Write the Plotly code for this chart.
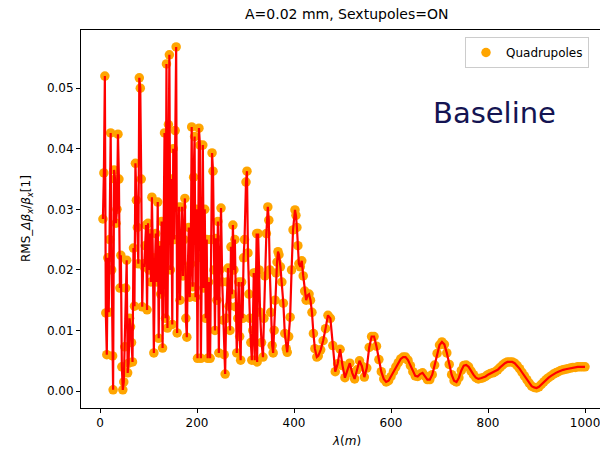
import plotly.graph_objects as go

# wavelength lambda (m) and RMS beta-beat values
lam = [6, 8, 10, 12, 14, 16, 18, 20, 22, 24, 26, 27, 29, 31, 33, 35, 37, 39, 41, 43,
       45, 47, 49, 51, 53, 55, 57, 59, 61, 63, 65, 67, 69, 71, 73, 75, 77, 79, 81, 83,
       85, 87, 89, 91, 93, 95, 97, 99, 101, 103, 105, 107, 109, 111, 113, 115, 117, 119, 121, 123,
       125, 127, 129, 131, 133, 135, 137, 139, 141, 143, 145, 147, 149, 151, 153, 155, 157, 159, 161, 163,
       165, 167, 169, 171, 173, 175, 177, 179, 181, 183, 185, 187, 189, 191, 193, 195, 197, 199, 201, 204,
       206, 208, 210, 212, 214, 216, 218, 220, 222, 224, 227, 229, 231, 233, 235, 237, 239, 241, 243, 245,
       247, 249.5, 252, 254, 256, 258, 260, 262, 264, 266, 268, 270, 272, 274, 276, 278, 280, 282, 284, 286,
       288, 290, 292, 294, 296, 298, 301, 303, 305, 307, 309, 311, 313, 315, 317, 319, 321, 323, 324, 326,
       328, 330, 333, 336, 338, 340, 343, 346, 348, 350, 352, 355, 357, 359, 361, 363, 365, 367, 369, 372,
       375, 378, 381, 384, 386, 389, 392, 395, 398, 402, 404, 406, 408, 410, 413, 416, 419, 422, 425, 428,
       431, 434, 437, 440, 443, 447,
       450, 455, 460, 465, 470, 475, 480, 485, 490, 495, 500, 505, 510, 515, 520, 525, 530, 535, 540, 545,
       550, 555, 560, 565, 570, 575, 580, 585, 590, 595, 600, 605, 610, 615, 620, 625, 630, 635, 640, 645,
       650, 655, 660, 665, 670, 675, 680, 685, 690, 695, 700, 705, 710, 715, 720, 725, 730, 735, 740, 745,
       750, 755, 760, 765, 770, 775, 780, 785, 790, 795, 800, 805, 810, 815, 820, 825, 830, 835, 840, 845,
       850, 855, 860, 865, 870, 875, 880, 885, 890, 895, 900, 905, 910, 915, 920, 925, 930, 935, 940, 945,
       950, 955, 960, 965, 970, 975, 980, 985, 990, 995, 1000]

rms = [0.0284, 0.0360, 0.0520, 0.0129, 0.0060, 0.0220, 0.0130, 0.0250, 0.0426, 0.0200,
       0.0058, 0.0002, 0.0365, 0.0350, 0.0277, 0.0300, 0.0424, 0.0350, 0.0170, 0.0224,
       0.0040, 0.0002, 0.0015, 0.0073, 0.0170, 0.0216, 0.0030, 0.0046, 0.0120, 0.0106,
       0.0080, 0.0048, 0.0236, 0.0140, 0.0376, 0.0315, 0.0270, 0.0210, 0.0517, 0.0500,
       0.0350, 0.0139, 0.0210, 0.0205, 0.0240, 0.0274, 0.0134, 0.0277, 0.0200, 0.0260,
       0.0180, 0.0320, 0.0220, 0.0063, 0.0200, 0.0260, 0.0180, 0.0312, 0.0087, 0.0240,
       0.0160, 0.0280, 0.0071, 0.0220, 0.0426, 0.0120, 0.0540, 0.0104, 0.0440, 0.0555,
       0.0200, 0.0350, 0.0110, 0.0400, 0.0250, 0.0430, 0.0568, 0.0096, 0.0250, 0.0304,
       0.0150, 0.0220, 0.0304, 0.0190, 0.0250, 0.0318, 0.0120, 0.0089, 0.0200, 0.0270,
       0.0155, 0.0210, 0.0436, 0.0172, 0.0353, 0.0420, 0.0155, 0.0300, 0.0054, 0.0434,
       0.0406, 0.0054, 0.0220, 0.0406, 0.0170, 0.0300, 0.0120, 0.0250, 0.0054, 0.0180,
       0.0054, 0.0250, 0.0393, 0.0363, 0.0200, 0.0100, 0.0252, 0.0150, 0.0280, 0.0063,
       0.0200, 0.0302, 0.0180, 0.0117, 0.0060, 0.0028, 0.0120, 0.0180, 0.0203, 0.0140,
       0.0100, 0.0238, 0.0160, 0.0274, 0.0200, 0.0250, 0.0139, 0.0063, 0.0120, 0.0180,
       0.0090, 0.0051, 0.0180, 0.0120, 0.0220, 0.0250, 0.0345, 0.0363, 0.0228, 0.0160,
       0.0120, 0.0080, 0.0051, 0.0100, 0.0195, 0.0051, 0.0195, 0.0260, 0.0048, 0.0260,
       0.0200, 0.0130, 0.0080, 0.0056, 0.0120, 0.0190, 0.0260, 0.0304, 0.0282, 0.0200,
       0.0130, 0.0075, 0.0063, 0.0100, 0.0150, 0.0195, 0.0213, 0.0230, 0.0225, 0.0205,
       0.0180, 0.0145, 0.0095, 0.0070, 0.0064, 0.0090, 0.0122, 0.0200, 0.0266, 0.0299,
       0.0290, 0.0270, 0.0240, 0.0210, 0.0205, 0.0215, 0.0190, 0.0165, 0.0150, 0.0158,
       0.0160, 0.0150, 0.0130, 0.0095, 0.0070, 0.0056,
       0.0058, 0.0068, 0.0083, 0.0103, 0.0125, 0.0120, 0.0075, 0.0032, 0.0045, 0.0069,
       0.0042, 0.0022, 0.0034, 0.0046, 0.0030, 0.0020, 0.0035, 0.0050, 0.0041, 0.0023,
       0.0038, 0.0072, 0.0090, 0.0090, 0.0074, 0.0052, 0.0032, 0.0020, 0.0015, 0.0017,
       0.0024, 0.0032, 0.0040, 0.0047, 0.0053, 0.0056, 0.0056, 0.0051, 0.0042, 0.0032,
       0.0025, 0.0024, 0.0028, 0.0030, 0.0025, 0.0019, 0.0019, 0.0027, 0.0043, 0.0062,
       0.0076, 0.0081, 0.0077, 0.0063, 0.0044, 0.0027, 0.0017, 0.0015, 0.0022, 0.0034,
       0.0042, 0.0043, 0.0040, 0.0033, 0.0027, 0.0022, 0.0020, 0.0021, 0.0022, 0.0024,
       0.0027, 0.0029, 0.0030, 0.0032, 0.0035, 0.0039, 0.0043, 0.0046, 0.0048, 0.0048,
       0.0048, 0.0046, 0.0042, 0.0037, 0.0031, 0.0025, 0.0019, 0.0013, 0.0008, 0.0006,
       0.0005, 0.0007, 0.0011, 0.0015, 0.0019, 0.0022, 0.0025, 0.0028, 0.0030, 0.0032,
       0.0034, 0.0035, 0.0036, 0.0037, 0.0038, 0.0039, 0.0039, 0.0040, 0.0040, 0.0040,
       0.0040]

x_ticks = [0, 200, 400, 600, 800, 1000]
y_ticks = [0.00, 0.01, 0.02, 0.03, 0.04, 0.05]
y_tick_labels = ["0.00", "0.01", "0.02", "0.03", "0.04", "0.05"]

FONT = "DejaVu Sans"
ML, MR, MT, MB = 81, 0, 30, 43
W, H = 600, 451
PW, PH = W - ML - MR, H - MT - MB

fig = go.Figure()
fig.add_trace(go.Scatter(
    x=lam, y=rms, mode="markers", name="Quadrupoles",
    marker=dict(color="#FFA500", size=9.5, line=dict(width=0)),
))
fig.add_trace(go.Scatter(
    x=lam, y=rms, mode="lines", showlegend=False,
    line=dict(color="#FF0000", width=2.2),
))

# "Baseline" label
fig.add_annotation(
    x=(494 - ML) / PW, y=1 - (113 - MT) / PH, xref="paper", yref="paper",
    text="Baseline", showarrow=False,
    font=dict(family=FONT, size=29, color="#141452"), xanchor="center", yanchor="middle",
)
# title
fig.add_annotation(
    x=(346 - ML) / PW, y=1 + (MT - 14) / PH, xref="paper", yref="paper",
    text="A=0.02 mm, Sextupoles=ON", showarrow=False,
    font=dict(family=FONT, size=14, color="#000000"), xanchor="center", yanchor="middle",
)
# axis titles
fig.add_annotation(
    x=(346 - ML) / PW, y=-(441 - (H - MB)) / PH, xref="paper", yref="paper",
    text="<i>λ</i>(<i>m</i>)", showarrow=False,
    font=dict(family=FONT, size=12, color="#000000"), xanchor="center", yanchor="middle",
)
fig.add_annotation(
    x=-(ML - 27) / PW, y=0.5, xref="paper", yref="paper", textangle=-90,
    text="RMS_<i>Δβ</i><sub><i>x</i></sub>/<i>β</i><sub><i>x</i></sub>[1]", showarrow=False,
    font=dict(family=FONT, size=12, color="#000000"), xanchor="center", yanchor="middle",
)

fig.update_layout(
    width=W, height=H,
    margin=dict(l=ML, r=MR, t=MT, b=MB, autoexpand=False),
    paper_bgcolor="white", plot_bgcolor="white",
    font=dict(family=FONT, size=12, color="#000000"),
    legend=dict(x=(465 - ML) / PW, y=1 - (37 - MT) / PH, xanchor="left", yanchor="top",
                bgcolor="white", bordercolor="#cccccc", borderwidth=1,
                font=dict(family=FONT, size=12)),
    showlegend=True,
)
fig.update_xaxes(
    range=[-39.2, 1030.9], tickvals=x_ticks, ticks="outside", ticklen=4,
    tickcolor="black", showline=True, linecolor="black", linewidth=1, mirror=True,
    showgrid=False, zeroline=False, tickfont=dict(size=12), automargin=False,
    ticklabeloverflow="allow",
)
fig.update_yaxes(
    range=[-0.0028, 0.0596], tickvals=y_ticks, ticktext=y_tick_labels, ticks="outside",
    ticklen=4, tickcolor="black", showline=True, linecolor="black", linewidth=1,
    mirror=False, showgrid=False, zeroline=False, tickfont=dict(size=12), automargin=False,
)

fig.write_html("out.html", config={"displayModeBar": False},
               post_script="document.body.style.margin='0px';document.body.style.overflow='hidden';")
